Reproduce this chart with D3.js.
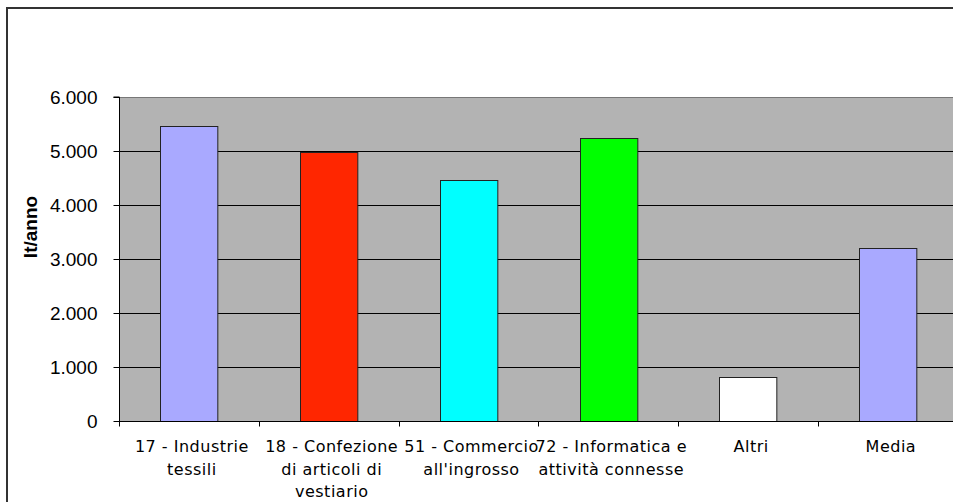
<!DOCTYPE html>
<html>
<head>
<meta charset="utf-8">
<script src="https://cdn.jsdelivr.net/npm/d3@7"></script>
<style>
  html, body { margin: 0; padding: 0; background: #ffffff; }
  svg { display: block; }
</style>
</head>
<body>
<script>
// ---- data ----
const categories = [
  ["17 - Industrie", "tessili"],
  ["18 - Confezione", "di articoli di", "vestiario"],
  ["51 - Commercio", "all'ingrosso"],
  ["72 - Informatica e", "attività connesse"],
  ["Altri"],
  ["Media"]
];
const values = [5460, 4980, 4460, 5240, 810, 3200];
const barColors = ["#a9a9ff", "#ff2600", "#00ffff", "#00ff00", "#ffffff", "#a9a9ff"];
const yTicks = [0, 1000, 2000, 3000, 4000, 5000, 6000];
const yTitle = "lt/anno";

// ---- layout ----
const W = 953, H = 502;
const plot = { left: 119, top: 97, width: 838.8, height: 324 };

const svg = d3.select("body").append("svg").attr("width", W).attr("height", H);

// outer border
svg.append("rect")
  .attr("x", 7).attr("y", 8)
  .attr("width", W + 20).attr("height", H + 20)
  .attr("fill", "#ffffff").attr("stroke", "#333333").attr("stroke-width", 2);

const keys = categories.map((c, i) => String(i));
const x = d3.scaleBand()
  .domain(keys)
  .range([plot.left, plot.left + plot.width])
  .paddingInner(0.59)
  .paddingOuter(0.295);
const step = x.step();

const y = d3.scaleLinear().domain([0, 6000]).range([plot.top + plot.height, plot.top]);

const locale = d3.formatLocale({ decimal: ",", thousands: ".", grouping: [3], currency: ["€", ""] });
const fmt = locale.format(",d");

// plot background
svg.append("rect")
  .attr("x", plot.left).attr("y", plot.top)
  .attr("width", plot.width).attr("height", plot.height)
  .attr("fill", "#b3b3b3");

// gridlines
svg.append("g").selectAll("line")
  .data(yTicks.filter(d => d > 0))
  .join("line")
  .attr("x1", plot.left).attr("x2", plot.left + plot.width)
  .attr("y1", d => Math.round(y(d)) + 0.5).attr("y2", d => Math.round(y(d)) + 0.5)
  .attr("stroke", d => d === 6000 ? "#777777" : "#000000")
  .attr("stroke-width", 1);

// bars
svg.append("g").selectAll("rect")
  .data(values)
  .join("rect")
  .attr("x", (d, i) => Math.round(x(String(i))) + 0.5)
  .attr("y", d => Math.round(y(d)) + 0.5)
  .attr("width", x.bandwidth())
  .attr("height", d => y(0) - Math.round(y(d)))
  .attr("fill", (d, i) => barColors[i])
  .attr("stroke", "#222222")
  .attr("stroke-width", 1);

// y axis
const yAxis = d3.axisLeft(y).tickValues(yTicks).tickFormat(fmt).tickSize(6).tickPadding(16);
const gy = svg.append("g")
  .attr("transform", `translate(${plot.left + 0.5},0)`)
  .call(yAxis);
gy.select(".domain").attr("stroke", "#000").attr("d", `M-6,${y(6000)}H0V${y(0)}`);
gy.selectAll(".tick line").attr("stroke", "#000");
gy.selectAll(".tick text")
  .attr("font-family", "'Liberation Sans', Arial, sans-serif")
  .attr("font-size", 19)
  .attr("fill", "#000");

// x axis
const xBase = Math.round(y(0)) + 0.5;
svg.append("line")
  .attr("x1", plot.left).attr("x2", plot.left + plot.width)
  .attr("y1", xBase).attr("y2", xBase)
  .attr("stroke", "#000");
svg.append("g").selectAll("line")
  .data(d3.range(categories.length + 1))
  .join("line")
  .attr("x1", i => Math.round(plot.left + i * step) + 0.5)
  .attr("x2", i => Math.round(plot.left + i * step) + 0.5)
  .attr("y1", xBase).attr("y2", xBase + 5)
  .attr("stroke", "#000");

// category labels
const lab = svg.append("g")
  .attr("font-family", "'DejaVu Sans', Verdana, sans-serif")
  .attr("font-size", 16)
  .attr("fill", "#000")
  .attr("text-anchor", "middle");
categories.forEach((lines, i) => {
  const cx = x(String(i)) + x.bandwidth() / 2 + 3;
  lines.forEach((t, j) => {
    lab.append("text")
      .attr("x", cx)
      .attr("y", 452 + j * 22.5)
      .attr("letter-spacing", 0.5)
      .text(t);
  });
});

// y title
svg.append("text")
  .attr("transform", `translate(37,${(plot.top + plot.top + plot.height) / 2 - 32}) rotate(-90)`)
  .attr("text-anchor", "middle")
  .attr("font-family", "'Liberation Sans', Arial, sans-serif")
  .attr("font-weight", "bold")
  .attr("font-size", 19)
  .text(yTitle);
</script>
</body>
</html>
